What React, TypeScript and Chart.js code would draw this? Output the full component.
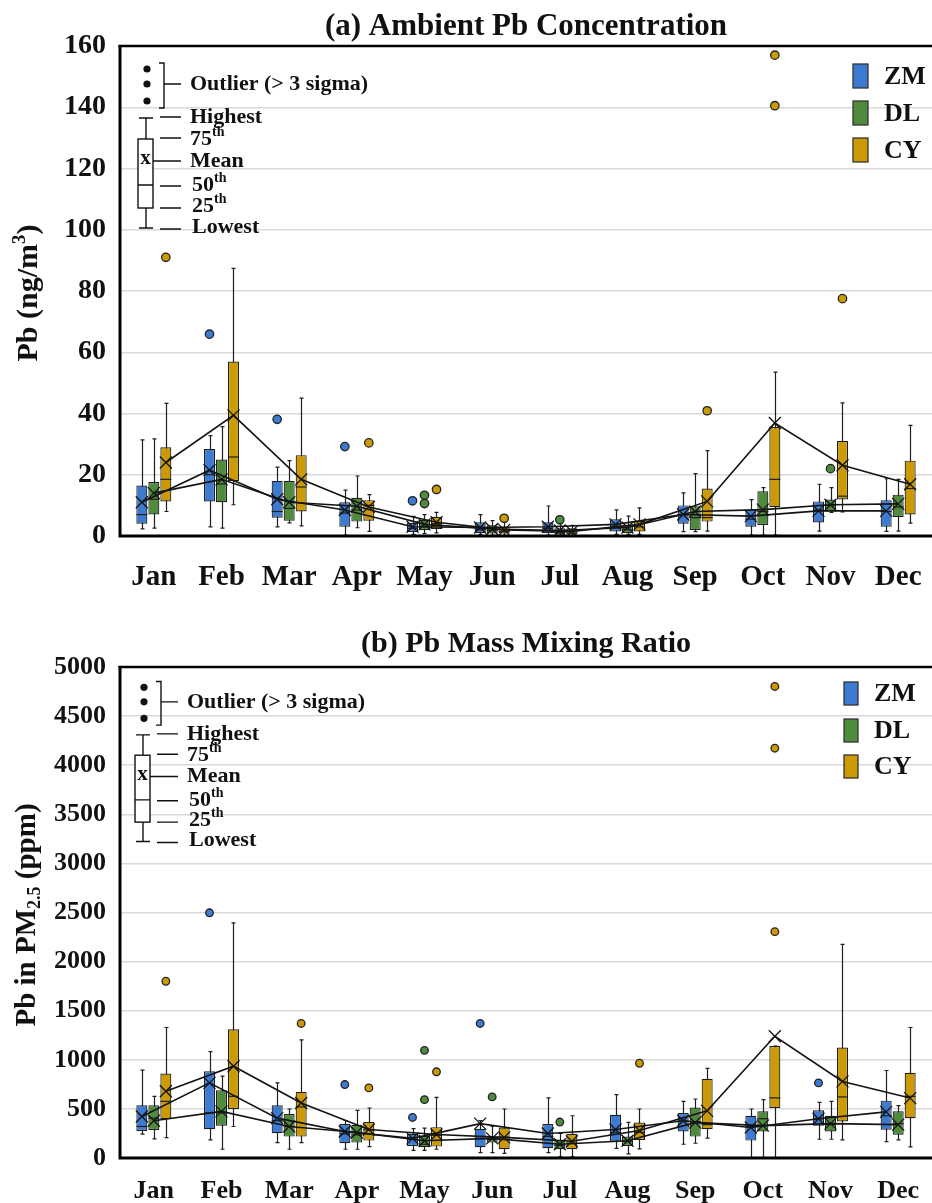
import React, { useEffect, useRef } from 'react';
import { Chart, registerables } from 'chart.js';
Chart.register(...registerables);

const FONT = "'Liberation Serif', 'Times New Roman', Times, serif";

const MONTHS = ['Jan', 'Feb', 'Mar', 'Apr', 'May', 'Jun', 'Jul', 'Aug', 'Sep', 'Oct', 'Nov', 'Dec'];
const SITE_NAMES = ['ZM', 'DL', 'CY'];
const SITE_COLORS = ['#3d7bd2', '#4f8b3c', '#cc9a06'];

const Y_TICKS_CONC = [0, 20, 40, 60, 80, 100, 120, 140, 160];
const Y_TICKS_RATIO = [0, 500, 1000, 1500, 2000, 2500, 3000, 3500, 4000, 4500, 5000];

// ---------- (a) Ambient Pb concentration (ng/m3) ----------
const concZM_min = [2.3, 3, 3, 0.3, 0.5, 0.5, 0.3, 0.5, 1.4, 0.3, 1.6, 1.5];
const concZM_q1 = [4, 11.3, 6, 3, 1.3, 1, 1, 1.5, 4, 3, 4.4, 3];
const concZM_med = [7, 20, 8, 7.5, 2.5, 2, 2.5, 3, 7, 5.5, 8.5, 8];
const concZM_q3 = [16.5, 28.4, 18, 11, 4.3, 4.5, 4.5, 5.5, 10, 8.6, 11.3, 11.7];
const concZM_max = [31.4, 32.8, 22.5, 15, 6.4, 7, 9.8, 8.5, 14.1, 11.9, 16.9, 18.7];
const concZM_mean = [11, 21.5, 12, 8.5, 3, 2.8, 3, 3.8, 7, 6.5, 8.2, 8.2];
const concZM_out = [[1, 65.9], [2, 38.1], [3, 29.2], [4, 11.5]];

const concDL_min = [2.6, 2.6, 4.3, 2.7, 0.8, 0.3, 0.3, 0.5, 1.4, 0.3, 7.7, 1.6];
const concDL_q1 = [7, 11, 5, 4.7, 2, 0.8, 0.5, 1, 2, 3.6, 8, 6.2];
const concDL_med = [12, 17, 9, 8.5, 3.2, 1.8, 1.2, 2, 6, 8, 10, 9.5];
const concDL_q3 = [17.6, 25, 18, 12.5, 5.3, 3.5, 2.5, 3.5, 9.7, 14.6, 11.9, 13.5];
const concDL_max = [31.7, 35.7, 24.6, 19.6, 7, 5, 4, 6.5, 20.4, 15.8, 15.8, 18.5];
const concDL_mean = [14, 18.5, 11, 9.7, 3.8, 2.3, 1.8, 2.8, 8, 8.6, 10.2, 10.5];
const concDL_out = [[4, 13.3], [4, 10.6], [6, 5.3], [10, 22]];

const concCY_min = [8, 10.2, 3.3, 1.5, 1, 0.3, 0.2, 0.5, 1.6, 0.3, 7.9, 4.2];
const concCY_q1 = [11.3, 18, 8, 5, 2.3, 0.8, 0.5, 1.5, 4.7, 9.4, 11.9, 7];
const concCY_med = [18.5, 25.8, 16, 10, 4, 1.5, 1, 3, 6, 18.5, 13, 15.5];
const concCY_q3 = [29, 57, 26.4, 11.7, 6.3, 3, 2.5, 5, 15.5, 35.6, 31, 24.6];
const concCY_max = [43.3, 87.4, 45, 13.5, 7.7, 4.5, 3.5, 9.2, 27.9, 53.5, 43.5, 36.1];
const concCY_mean = [24, 39.4, 18.5, 9.5, 4.5, 2, 1.5, 3.8, 11.3, 36.9, 23.1, 16.9];
const concCY_out = [[0, 91], [3, 30.4], [4, 15.2], [5, 5.8], [8, 40.9], [9, 157], [9, 140.5], [10, 77.5]];

// ---------- (b) Pb mass mixing ratio in PM2.5 (ppm) ----------
const ratioZM_min = [243, 184, 157, 89, 78, 55, 55, 99, 140, 0, 191, 167];
const ratioZM_q1 = [276, 294, 253, 150, 123, 109, 99, 167, 270, 177, 328, 287];
const ratioZM_med = [321, 460, 380, 246, 190, 200, 220, 260, 376, 320, 400, 430];
const ratioZM_q3 = [536, 884, 536, 345, 246, 297, 345, 440, 458, 430, 485, 584];
const ratioZM_max = [895, 1083, 765, 382, 300, 380, 612, 645, 577, 499, 567, 891];
const ratioZM_mean = [423, 765, 406, 270, 200, 350, 250, 290, 380, 310, 400, 470];
const ratioZM_out = [[1, 2497], [3, 748], [4, 413], [5, 1370], [10, 765]];

const ratioDL_min = [195, 89, 89, 89, 78, 55, 14, 41, 150, 0, 191, 184];
const ratioDL_q1 = [286, 328, 218, 157, 109, 157, 89, 123, 218, 270, 270, 236];
const ratioDL_med = [406, 460, 321, 235, 140, 190, 130, 170, 370, 400, 340, 350];
const ratioDL_q3 = [536, 690, 448, 338, 225, 218, 184, 218, 515, 475, 430, 475];
const ratioDL_max = [628, 833, 499, 485, 304, 321, 250, 362, 601, 594, 577, 533];
const ratioDL_mean = [380, 475, 320, 260, 175, 200, 140, 175, 360, 330, 350, 340];
const ratioDL_out = [[4, 594], [4, 1096], [5, 622], [6, 366]];

const ratioCY_min = [208, 321, 157, 116, 89, 48, 14, 92, 202, 0, 184, 113];
const ratioCY_q1 = [396, 499, 218, 177, 116, 89, 89, 184, 294, 509, 372, 406];
const ratioCY_med = [577, 628, 520, 287, 232, 212, 150, 260, 340, 612, 622, 628];
const ratioCY_q3 = [860, 1311, 673, 366, 314, 311, 246, 362, 806, 1140, 1124, 868];
const ratioCY_max = [1329, 2394, 1202, 509, 618, 499, 430, 499, 912, 1140, 2175, 1329];
const ratioCY_mean = [680, 935, 560, 290, 240, 210, 170, 280, 480, 1240, 780, 610];
const ratioCY_out = [[0, 1800], [2, 1370], [3, 714], [4, 878], [7, 965], [9, 2305], [9, 4173], [9, 4802]];

type Stats = { min: number[]; q1: number[]; med: number[]; q3: number[]; max: number[]; mean: number[]; out: number[][] };
type Part = { t: string; m?: 'sup' | 'sub' };

const CONC_SITES: Stats[] = [
  { min: concZM_min, q1: concZM_q1, med: concZM_med, q3: concZM_q3, max: concZM_max, mean: concZM_mean, out: concZM_out },
  { min: concDL_min, q1: concDL_q1, med: concDL_med, q3: concDL_q3, max: concDL_max, mean: concDL_mean, out: concDL_out },
  { min: concCY_min, q1: concCY_q1, med: concCY_med, q3: concCY_q3, max: concCY_max, mean: concCY_mean, out: concCY_out },
];
const RATIO_SITES: Stats[] = [
  { min: ratioZM_min, q1: ratioZM_q1, med: ratioZM_med, q3: ratioZM_q3, max: ratioZM_max, mean: ratioZM_mean, out: ratioZM_out },
  { min: ratioDL_min, q1: ratioDL_q1, med: ratioDL_med, q3: ratioDL_q3, max: ratioDL_max, mean: ratioDL_mean, out: ratioDL_out },
  { min: ratioCY_min, q1: ratioCY_q1, med: ratioCY_med, q3: ratioCY_q3, max: ratioCY_max, mean: ratioCY_mean, out: ratioCY_out },
];

type PanelCfg = {
  height: number;
  padTop: number;
  xHeight: number;
  xSize: number;
  xPad: number;
  ySize: number;
  yMax: number;
  yTicks: number[];
  sites: Stats[];
  title: string;
  titleY: number;
  titleSize: number;
  yTitle: Part[];
  yTitleX: number;
  yTitleY: number;
  yTitleSize: number;
  keyDx: number;
  keyDy: number;
  keySy: number;
  legendX: number;
  legendW: number;
  legendH: number;
  legendYs: number[];
  legendTextX: number;
  outR: number;
};

const PANEL_A: PanelCfg = {
  height: 600, padTop: 46, xHeight: 64, xSize: 29, xPad: 24, ySize: 28, yMax: 160, yTicks: Y_TICKS_CONC,
  sites: CONC_SITES, title: '(a) Ambient Pb Concentration', titleY: 27, titleSize: 31,
  yTitle: [{ t: 'Pb (ng/m' }, { t: '3', m: 'sup' }, { t: ')' }], yTitleX: 29, yTitleY: 293, yTitleSize: 30,
  keyDx: 0, keyDy: 0, keySy: 1,
  legendX: 853, legendW: 15, legendH: 24, legendYs: [64, 101, 138], legendTextX: 884, outR: 4.2,
};
const PANEL_B: PanelCfg = {
  height: 603, padTop: 67, xHeight: 45, xSize: 26, xPad: 18, ySize: 26, yMax: 5000, yTicks: Y_TICKS_RATIO,
  sites: RATIO_SITES, title: '(b) Pb Mass Mixing Ratio', titleY: 44, titleSize: 30,
  yTitle: [{ t: 'Pb in PM' }, { t: '2.5', m: 'sub' }, { t: ' (ppm)' }], yTitleX: 28, yTitleY: 315, yTitleSize: 29,
  keyDx: -3, keyDy: -2, keySy: 0.97,
  legendX: 844, legendW: 14, legendH: 23, legendYs: [82, 119, 155], legendTextX: 874, outR: 3.8,
};

function drawRich(ctx: CanvasRenderingContext2D, parts: Part[], x: number, y: number, size: number, align: 'left' | 'center') {
  const small = Math.round(size * 0.62);
  const widths = parts.map((p) => {
    ctx.font = `bold ${p.m ? small : size}px ${FONT}`;
    return ctx.measureText(p.t).width;
  });
  const total = widths.reduce((a, b) => a + b, 0);
  let cx = align === 'center' ? x - total / 2 : x;
  ctx.textAlign = 'left';
  ctx.textBaseline = 'middle';
  parts.forEach((p, i) => {
    ctx.font = `bold ${p.m ? small : size}px ${FONT}`;
    const dy = p.m === 'sup' ? -size * 0.3 : p.m === 'sub' ? size * 0.26 : 0;
    ctx.fillText(p.t, cx, y + dy);
    cx += widths[i];
  });
}

function drawKey(ctx: CanvasRenderingContext2D, x0: number, y0: number, sy: number) {
  const Y = (v: number) => y0 + v * sy;
  ctx.save();
  ctx.strokeStyle = '#111';
  ctx.fillStyle = '#111';
  ctx.lineWidth = 1.4;
  [23, 38, 55].forEach((d) => {
    ctx.beginPath();
    ctx.arc(x0 + 27, Y(d), 3.6, 0, Math.PI * 2);
    ctx.fill();
  });
  ctx.beginPath();
  ctx.moveTo(x0 + 39, Y(17));
  ctx.lineTo(x0 + 44, Y(17));
  ctx.lineTo(x0 + 44, Y(62));
  ctx.lineTo(x0 + 39, Y(62));
  ctx.moveTo(x0 + 44, Y(38));
  ctx.lineTo(x0 + 61, Y(38));
  ctx.moveTo(x0 + 26, Y(72));
  ctx.lineTo(x0 + 26, Y(93));
  ctx.moveTo(x0 + 26, Y(162));
  ctx.lineTo(x0 + 26, Y(182));
  ctx.moveTo(x0 + 19, Y(72));
  ctx.lineTo(x0 + 33, Y(72));
  ctx.moveTo(x0 + 19, Y(182));
  ctx.lineTo(x0 + 33, Y(182));
  ctx.stroke();
  ctx.fillStyle = '#fff';
  ctx.fillRect(x0 + 18, Y(93), 15, Y(162) - Y(93));
  ctx.strokeRect(x0 + 18, Y(93), 15, Y(162) - Y(93));
  ctx.beginPath();
  ctx.moveTo(x0 + 18, Y(139));
  ctx.lineTo(x0 + 33, Y(139));
  ctx.moveTo(x0 + 33, Y(115));
  ctx.lineTo(x0 + 61, Y(115));
  [71, 92, 140, 162, 183].forEach((d) => {
    ctx.moveTo(x0 + 40, Y(d));
    ctx.lineTo(x0 + 61, Y(d));
  });
  ctx.stroke();
  ctx.fillStyle = '#111';
  ctx.font = `bold 21px ${FONT}`;
  ctx.textAlign = 'center';
  ctx.textBaseline = 'middle';
  ctx.fillText('x', x0 + 25.5, Y(113));
  const lx = x0 + 70;
  drawRich(ctx, [{ t: 'Outlier (> 3 sigma)' }], lx, Y(38), 22, 'left');
  drawRich(ctx, [{ t: 'Highest' }], lx, Y(71), 22, 'left');
  drawRich(ctx, [{ t: '75' }, { t: 'th', m: 'sup' }], lx, Y(93), 22, 'left');
  drawRich(ctx, [{ t: 'Mean' }], lx, Y(115), 22, 'left');
  drawRich(ctx, [{ t: '50' }, { t: 'th', m: 'sup' }], lx + 2, Y(139), 22, 'left');
  drawRich(ctx, [{ t: '25' }, { t: 'th', m: 'sup' }], lx + 2, Y(160), 22, 'left');
  drawRich(ctx, [{ t: 'Lowest' }], lx + 2, Y(181), 22, 'left');
  ctx.restore();
}

function makePlugin(cfg: PanelCfg) {
  return {
    id: 'boxExtras',
    beforeDatasetsDraw(chart: any) {
      const ctx: CanvasRenderingContext2D = chart.ctx;
      const ys = chart.scales.y;
      ctx.save();
      ctx.strokeStyle = '#1e1e1e';
      ctx.lineWidth = 1.2;
      cfg.sites.forEach((st, di) => {
        const meta = chart.getDatasetMeta(di);
        meta.data.forEach((el: any, i: number) => {
          const x = Math.round(el.x) + 0.5;
          const yMin = ys.getPixelForValue(st.min[i]);
          const yMax = ys.getPixelForValue(st.max[i]);
          ctx.beginPath();
          ctx.moveTo(x, yMin);
          ctx.lineTo(x, yMax);
          ctx.moveTo(x - 2, yMin);
          ctx.lineTo(x + 2, yMin);
          ctx.moveTo(x - 2, yMax);
          ctx.lineTo(x + 2, yMax);
          ctx.stroke();
        });
      });
      ctx.restore();
    },
    afterDatasetsDraw(chart: any) {
      const ctx: CanvasRenderingContext2D = chart.ctx;
      const ys = chart.scales.y;
      const area = chart.chartArea;
      ctx.save();
      ctx.beginPath();
      ctx.rect(area.left, area.top, area.right - area.left, area.bottom - area.top);
      ctx.clip();
      ctx.strokeStyle = '#1e1e1e';
      ctx.lineWidth = 1.2;
      cfg.sites.forEach((st, di) => {
        const meta = chart.getDatasetMeta(di);
        meta.data.forEach((el: any, i: number) => {
          const y = ys.getPixelForValue(st.med[i]);
          ctx.beginPath();
          ctx.moveTo(el.x - el.width / 2, y);
          ctx.lineTo(el.x + el.width / 2, y);
          ctx.stroke();
        });
      });
      ctx.strokeStyle = '#141414';
      ctx.lineWidth = 1.6;
      cfg.sites.forEach((st, di) => {
        const meta = chart.getDatasetMeta(di);
        ctx.beginPath();
        meta.data.forEach((el: any, i: number) => {
          const y = ys.getPixelForValue(st.mean[i]);
          if (i === 0) ctx.moveTo(el.x, y);
          else ctx.lineTo(el.x, y);
        });
        ctx.stroke();
      });
      ctx.lineWidth = 1.3;
      cfg.sites.forEach((st, di) => {
        const meta = chart.getDatasetMeta(di);
        meta.data.forEach((el: any, i: number) => {
          const y = ys.getPixelForValue(st.mean[i]);
          const h = 6;
          ctx.beginPath();
          ctx.moveTo(el.x - h, y - h);
          ctx.lineTo(el.x + h, y + h);
          ctx.moveTo(el.x - h, y + h);
          ctx.lineTo(el.x + h, y - h);
          ctx.stroke();
        });
      });
      ctx.lineWidth = 1.3;
      ctx.strokeStyle = '#222';
      cfg.sites.forEach((st, di) => {
        const meta = chart.getDatasetMeta(di);
        ctx.fillStyle = SITE_COLORS[di];
        st.out.forEach(([mi, v]) => {
          const el = meta.data[mi];
          const y = ys.getPixelForValue(v);
          ctx.beginPath();
          ctx.arc(el.x, y, cfg.outR, 0, Math.PI * 2);
          ctx.fill();
          ctx.stroke();
        });
      });
      ctx.restore();
    },
    afterDraw(chart: any) {
      const ctx: CanvasRenderingContext2D = chart.ctx;
      const a = chart.chartArea;
      ctx.save();
      ctx.strokeStyle = '#000';
      ctx.lineWidth = 2.5;
      ctx.beginPath();
      ctx.moveTo(a.left - 1.5, a.top);
      ctx.lineTo(chart.width, a.top);
      ctx.stroke();
      ctx.lineWidth = 3;
      ctx.beginPath();
      ctx.moveTo(a.left, a.top - 1);
      ctx.lineTo(a.left, a.bottom + 1.5);
      ctx.moveTo(a.left - 1.5, a.bottom);
      ctx.lineTo(chart.width, a.bottom);
      ctx.stroke();
      ctx.fillStyle = '#111';
      ctx.font = `bold ${cfg.titleSize}px ${FONT}`;
      ctx.textAlign = 'center';
      ctx.textBaseline = 'middle';
      ctx.fillText(cfg.title, (a.left + a.right) / 2, cfg.titleY);
      ctx.save();
      ctx.translate(cfg.yTitleX, cfg.yTitleY);
      ctx.rotate(-Math.PI / 2);
      drawRich(ctx, cfg.yTitle, 0, 0, cfg.yTitleSize, 'center');
      ctx.restore();
      SITE_NAMES.forEach((name, k) => {
        const y = cfg.legendYs[k];
        ctx.fillStyle = SITE_COLORS[k];
        ctx.fillRect(cfg.legendX, y, cfg.legendW, cfg.legendH);
        ctx.strokeStyle = '#333';
        ctx.lineWidth = 1.3;
        ctx.strokeRect(cfg.legendX, y, cfg.legendW, cfg.legendH);
        ctx.fillStyle = '#111';
        ctx.font = `bold 26px ${FONT}`;
        ctx.textAlign = 'left';
        ctx.textBaseline = 'middle';
        ctx.fillText(name, cfg.legendTextX, y + cfg.legendH / 2 + 1);
      });
      drawKey(ctx, a.left + cfg.keyDx, a.top + cfg.keyDy, cfg.keySy);
      ctx.restore();
    },
  };
}

function buildChart(canvas: HTMLCanvasElement, cfg: PanelCfg) {
  const datasets = cfg.sites.map((st, k) => ({
    type: 'bar' as const,
    label: SITE_NAMES[k],
    data: MONTHS.map((_, i) => [st.q1[i], st.q3[i]]),
    backgroundColor: SITE_COLORS[k],
    borderColor: '#1e1e1e',
    borderWidth: 1.2,
    borderSkipped: false,
    categoryPercentage: 0.532,
    barPercentage: 0.917,
  }));
  return new Chart(canvas, {
    type: 'bar',
    data: { labels: MONTHS, datasets: datasets as any },
    options: {
      responsive: false,
      animation: false,
      devicePixelRatio: 1,
      events: [],
      layout: { padding: { top: cfg.padTop, left: 0, right: 0, bottom: 0 } },
      plugins: { legend: { display: false }, tooltip: { enabled: false }, title: { display: false } },
      scales: {
        x: {
          grid: { display: false, drawTicks: false },
          border: { display: false },
          ticks: {
            font: { family: FONT, size: cfg.xSize, weight: 'bold' },
            color: '#111',
            padding: cfg.xPad,
            maxRotation: 0,
            autoSkip: false,
          },
          afterFit: (s: any) => {
            s.height = cfg.xHeight;
            s.paddingLeft = 0;
            s.paddingRight = 0;
          },
        },
        y: {
          min: 0,
          max: cfg.yMax,
          grid: { color: '#d9d9d9', lineWidth: 1.5, drawTicks: false },
          border: { display: false },
          ticks: {
            font: { family: FONT, size: cfg.ySize, weight: 'bold' },
            color: '#111',
            padding: 14,
            callback: (v: any) => String(v),
          },
          afterBuildTicks: (s: any) => {
            s.ticks = cfg.yTicks.map((v) => ({ value: v }));
          },
          afterFit: (s: any) => {
            s.width = 120;
          },
        },
      },
    } as any,
    plugins: [makePlugin(cfg)],
  });
}

export default function App() {
  const refA = useRef<HTMLCanvasElement>(null);
  const refB = useRef<HTMLCanvasElement>(null);
  useEffect(() => {
    document.body.style.margin = '0';
    document.body.style.background = '#fff';
    const cA = buildChart(refA.current as HTMLCanvasElement, PANEL_A);
    const cB = buildChart(refB.current as HTMLCanvasElement, PANEL_B);
    return () => {
      cA.destroy();
      cB.destroy();
    };
  }, []);
  return (
    <div style={{ width: 932, background: '#fff' }}>
      <canvas ref={refA} width={932} height={PANEL_A.height} style={{ display: 'block', width: 932, height: PANEL_A.height }} />
      <canvas ref={refB} width={932} height={PANEL_B.height} style={{ display: 'block', width: 932, height: PANEL_B.height }} />
    </div>
  );
}
